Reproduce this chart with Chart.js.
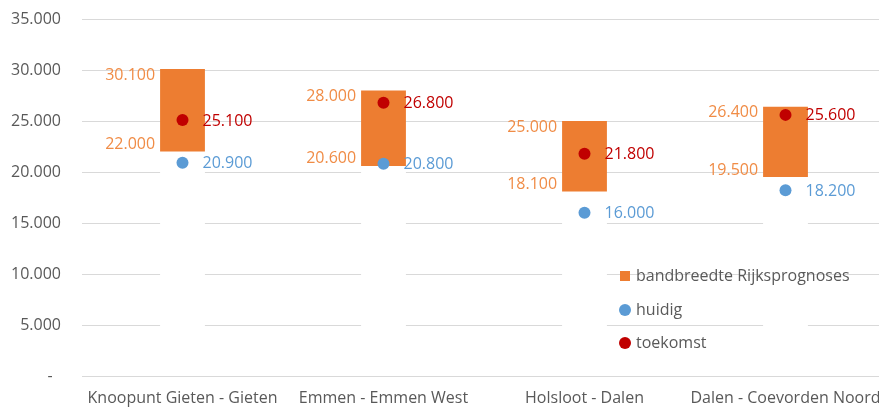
<!DOCTYPE html>
<html>
<head>
<meta charset="utf-8">
<script src="https://cdn.jsdelivr.net/npm/chart.js@4"></script>
<style>
  body { margin: 0; background: #fff; overflow: hidden; }
  #wrap { position: relative; width: 879px; height: 408px; overflow: hidden; }
  .legend { position: absolute; left: 620px; top: 264px; font: 16px 'Open Sans', sans-serif; color: #595959; }
  .legend div { height: 33.5px; line-height: 22px; white-space: nowrap; }
  .legend i { display: inline-block; width: 10px; height: 10px; margin-right: 6px; vertical-align: -0px; }
</style>
</head>
<body>
<div id="wrap">
  <!-- canvas iets breder dan het venster: rechts valt het plotgebied net buiten beeld, zoals in het origineel -->
  <canvas id="chart" width="886" height="408"></canvas>
  <div class="legend">
    <div><i style="background:#ED7D31"></i>bandbreedte Rijksprognoses</div>
    <div><i style="background:#5B9BD5;border-radius:50%;width:12px;height:12px;margin-left:-1px;margin-right:5px;vertical-align:-1px"></i>huidig</div>
    <div><i style="background:#C00000;border-radius:50%;width:12px;height:12px;margin-left:-1px;margin-right:5px;vertical-align:-1px"></i>toekomst</div>
  </div>
</div>
<script>
// gegevens
const categories = ['Knoopunt Gieten - Gieten', 'Emmen - Emmen West', 'Holsloot - Dalen', 'Dalen - Coevorden Noord'];
const prognoseLaag = [22000, 20600, 18100, 19500];
const prognoseHoog = [30100, 28000, 25000, 26400];
const huidig = [20900, 20800, 16000, 18200];
const toekomst = [25100, 26800, 21800, 25600];
const yTicks = [0, 5000, 10000, 15000, 20000, 25000, 30000, 35000];

const FONT = "'Open Sans', sans-serif";

// getal met punt als duizendtal-scheiding
function fmt(v) {
    return String(v).replace(/\B(?=(\d{3})+(?!\d))/g, '.');
}

// labels bij de balken en punten
const labelPlugin = {
    id: 'labels',
    afterDatasetsDraw(chart) {
        const ctx = chart.ctx;
        ctx.save();
        ctx.font = '16px ' + FONT;
        ctx.textBaseline = 'middle';

        const band = chart.getDatasetMeta(1);
        band.data.forEach((bar, i) => {
            const left = bar.x - bar.width / 2;
            ctx.fillStyle = '#F08C46';
            ctx.textAlign = 'right';
            ctx.fillText(fmt(prognoseHoog[i]), left - 5, bar.y + 6);
            ctx.fillText(fmt(prognoseLaag[i]), left - 5, bar.base - 7);
        });

        [[2, huidig, '#5B9BD5'], [3, toekomst, '#C00000']].forEach(([idx, values, color]) => {
            chart.getDatasetMeta(idx).data.forEach((pt, i) => {
                ctx.fillStyle = color;
                ctx.textAlign = 'left';
                ctx.fillText(fmt(values[i]), pt.x + 20, pt.y + 1);
            });
        });
        ctx.restore();
    }
};

new Chart(document.getElementById('chart').getContext('2d'), {
    type: 'bar',
    data: {
        labels: categories,
        datasets: [
            {
                // witte onderbalk, verbergt de rasterlijnen
                label: 'basis',
                data: prognoseLaag.map(v => [0, v]),
                backgroundColor: '#FFFFFF',
                order: 3
            },
            {
                label: 'bandbreedte Rijksprognoses',
                data: prognoseLaag.map((v, i) => [v, prognoseHoog[i]]),
                backgroundColor: '#ED7D31',
                order: 2
            },
            {
                type: 'line',
                label: 'huidig',
                data: huidig,
                showLine: false,
                pointRadius: 6,
                pointBackgroundColor: '#5B9BD5',
                pointBorderWidth: 0,
                order: 1
            },
            {
                type: 'line',
                label: 'toekomst',
                data: toekomst,
                showLine: false,
                pointRadius: 6,
                pointBackgroundColor: '#C00000',
                pointBorderWidth: 0,
                order: 0
            }
        ]
    },
    options: {
        responsive: false,
        animation: false,
        devicePixelRatio: 1,
        layout: { autoPadding: false, padding: { top: 19, right: 0, bottom: 0, left: 0 } },
        datasets: {
            bar: { categoryPercentage: 1, barPercentage: 0.223 }
        },
        scales: {
            x: {
                stacked: true,
                grid: { display: false, drawTicks: true, tickLength: 13 },
                border: { display: true, color: '#D9D9D9', z: 1 },
                ticks: { color: '#595959', font: { family: FONT, size: 16 }, padding: 0, maxRotation: 0 },
                afterFit(scale) { scale.height = 32; }
            },
            y: {
                stacked: false,
                min: 0,
                max: 35000,
                afterBuildTicks(scale) { scale.ticks = yTicks.map(v => ({ value: v })); },
                grid: { color: '#D9D9D9', drawTicks: true, tickLength: 21, tickColor: 'rgba(0,0,0,0)' },
                border: { display: false },
                ticks: {
                    color: '#595959',
                    font: { family: FONT, size: 16 },
                    padding: 0,
                    callback: v => v === 0 ? '-  ' : fmt(v)
                },
                afterFit(scale) { scale.width = 82; }
            }
        },
        plugins: {
            legend: { display: false },
            tooltip: { enabled: false }
        }
    },
    plugins: [labelPlugin]
});
</script>
</body>
</html>
